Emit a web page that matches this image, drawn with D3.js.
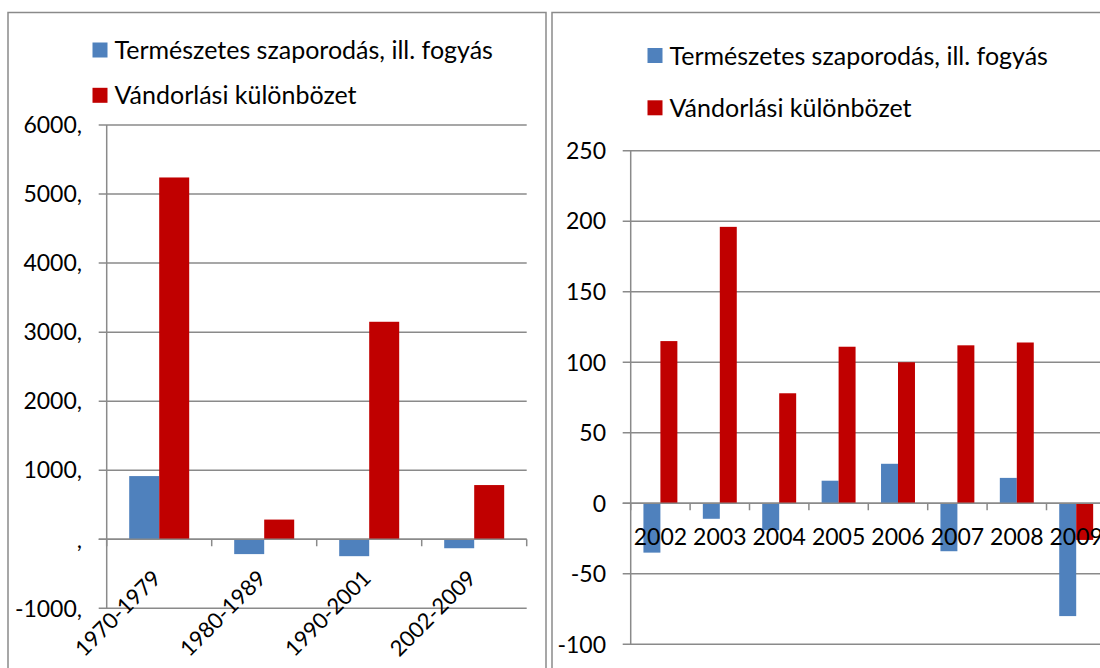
<!DOCTYPE html>
<html>
<head>
<meta charset="utf-8">
<script src="https://cdn.jsdelivr.net/npm/d3@7/dist/d3.min.js"></script>
<style>
  html, body { margin: 0; padding: 0; background: #fff; }
  svg { display: block; }
  text { font-family: Lato, "Open Sans", sans-serif; fill: #000; }
</style>
</head>
<body>
<svg id="chart" width="1100" height="668"></svg>
<script>
// ---------- data ----------
const seriesNames = ["Természetes szaporodás, ill. fogyás", "Vándorlási különbözet"];
const seriesColors = ["#4F81BD", "#C00000"];

const periods = ["1970-1979", "1980-1989", "1990-2001", "2002-2009"];
const periodNatural = [915, -215, -245, -130];
const periodMigration = [5240, 285, 3150, 785];
const periodTicks = [-1000, 0, 1000, 2000, 3000, 4000, 5000, 6000];
const periodTickLabels = ["-1000,", ",", "1000,", "2000,", "3000,", "4000,", "5000,", "6000,"];

const years = ["2002", "2003", "2004", "2005", "2006", "2007", "2008", "2009"];
const yearNatural = [-35, -11, -19, 16, 28, -34, 18, -80];
const yearMigration = [115, 196, 78, 111, 100, 112, 114, -26];
const yearTicks = [-100, -50, 0, 50, 100, 150, 200, 250];
const yearTickLabels = ["-100", "-50", "0", "50", "100", "150", "200", "250"];

// ---------- drawing ----------
const svg = d3.select("#chart");
const gridColor = "#8a8a8a";
const fontSize = 23;
const legendFontSize = 25;
const rotFontSize = 22;

function panel(cfg) {
  const g = svg.append("g");
  // panel border
  g.append("rect")
    .attr("x", cfg.box[0]).attr("y", cfg.box[1])
    .attr("width", cfg.box[2]).attr("height", cfg.box[3])
    .attr("fill", "#fff").attr("stroke", gridColor).attr("stroke-width", 1.5);

  const y = d3.scaleLinear().domain(cfg.yDomain).range([cfg.yBottom, cfg.yTop]);
  const x = d3.scaleBand().domain(cfg.cats).range([cfg.xLeft, cfg.xRight]).paddingInner(0).paddingOuter(0);
  const xs = d3.scaleBand().domain([0, 1]).range([0, x.bandwidth()]).paddingInner(0).paddingOuter(0.75);

  // gridlines + y ticks
  g.append("g").selectAll("line").data(cfg.ticks).join("line")
    .attr("x1", cfg.xLeft - 8).attr("x2", cfg.xRight)
    .attr("y1", d => y(d)).attr("y2", d => y(d))
    .attr("stroke", gridColor).attr("stroke-width", 1.5);

  // y labels
  g.append("g").selectAll("text").data(cfg.ticks).join("text")
    .attr("x", cfg.labelX).attr("y", d => y(d))
    .attr("dy", "0.36em").attr("text-anchor", "end")
    .attr("font-size", fontSize)
    .text((d, i) => cfg.tickLabels[i]);

  // bars
  const rows = cfg.cats.map((c, i) => [
    { c, s: 0, v: cfg.s0[i] },
    { c, s: 1, v: cfg.s1[i] }
  ]).flat();
  g.append("g").selectAll("rect").data(rows).join("rect")
    .attr("x", d => x(d.c) + xs(d.s))
    .attr("width", xs.bandwidth())
    .attr("y", d => y(Math.max(0, d.v)))
    .attr("height", d => Math.abs(y(d.v) - y(0)))
    .attr("fill", d => seriesColors[d.s]);

  // y axis line
  g.append("line")
    .attr("x1", cfg.xLeft).attr("x2", cfg.xLeft)
    .attr("y1", cfg.yTop).attr("y2", cfg.yBottom)
    .attr("stroke", gridColor).attr("stroke-width", 1.5);
  // x axis (at zero)
  const xAxis = d3.axisBottom(x).tickSize(0).tickFormat("");
  const ax = g.append("g").attr("transform", `translate(0,${y(0)})`).call(xAxis);
  ax.select(".domain").attr("stroke", gridColor).attr("stroke-width", 1.5)
    .attr("d", `M${cfg.xLeft - 8},0H${cfg.xRight}`);
  // category boundary tick marks
  const bounds = cfg.cats.map(c => x(c)).concat([cfg.xRight]);
  g.append("g").selectAll("line").data(bounds).join("line")
    .attr("x1", d => d).attr("x2", d => d)
    .attr("y1", y(0)).attr("y2", y(0) + 7)
    .attr("stroke", gridColor).attr("stroke-width", 1.5);

  // category labels
  const lbl = g.append("g").selectAll("text").data(cfg.cats).join("text")
    .text(d => d);
  if (cfg.rotate) {
    lbl.attr("text-anchor", "end")
      .attr("font-size", rotFontSize)
      .attr("transform", d => `translate(${x(d) + x.bandwidth() / 2 + 3},${y(0) + 40.5}) rotate(-45)`);
  } else {
    lbl.attr("text-anchor", "middle")
      .attr("font-size", fontSize)
      .attr("x", d => x(d) + x.bandwidth() / 2)
      .attr("y", y(0) + 42);
  }

  // legend
  const lg = g.append("g").selectAll("g").data(seriesNames).join("g")
    .attr("transform", (d, i) => `translate(${cfg.legend[0]},${cfg.legend[1] + i * cfg.legend[2]})`);
  lg.append("rect").attr("x", 0).attr("y", -7.5).attr("width", 15).attr("height", 15)
    .attr("fill", (d, i) => seriesColors[i]);
  lg.append("text").attr("x", 22).attr("y", 0).attr("dy", "0.36em")
    .attr("font-size", legendFontSize).text(d => d);
}

panel({
  box: [8, 12.5, 538, 700],
  cats: periods, s0: periodNatural, s1: periodMigration,
  yDomain: [-1000, 6000], yBottom: 608.3, yTop: 125,
  xLeft: 106.7, xRight: 526.7,
  ticks: periodTicks, tickLabels: periodTickLabels, labelX: 82,
  rotate: true,
  legend: [92.5, 50, 45.3]
});

panel({
  box: [552, 12.5, 600, 700],
  cats: years, s0: yearNatural, s1: yearMigration,
  yDomain: [-100, 250], yBottom: 644.3, yTop: 150.7,
  xLeft: 630.7, xRight: 630.7 + 8 * 59.4,
  ticks: yearTicks, tickLabels: yearTickLabels, labelX: 606,
  rotate: false,
  legend: [647.5, 55.5, 52.3]
});
</script>
</body>
</html>
